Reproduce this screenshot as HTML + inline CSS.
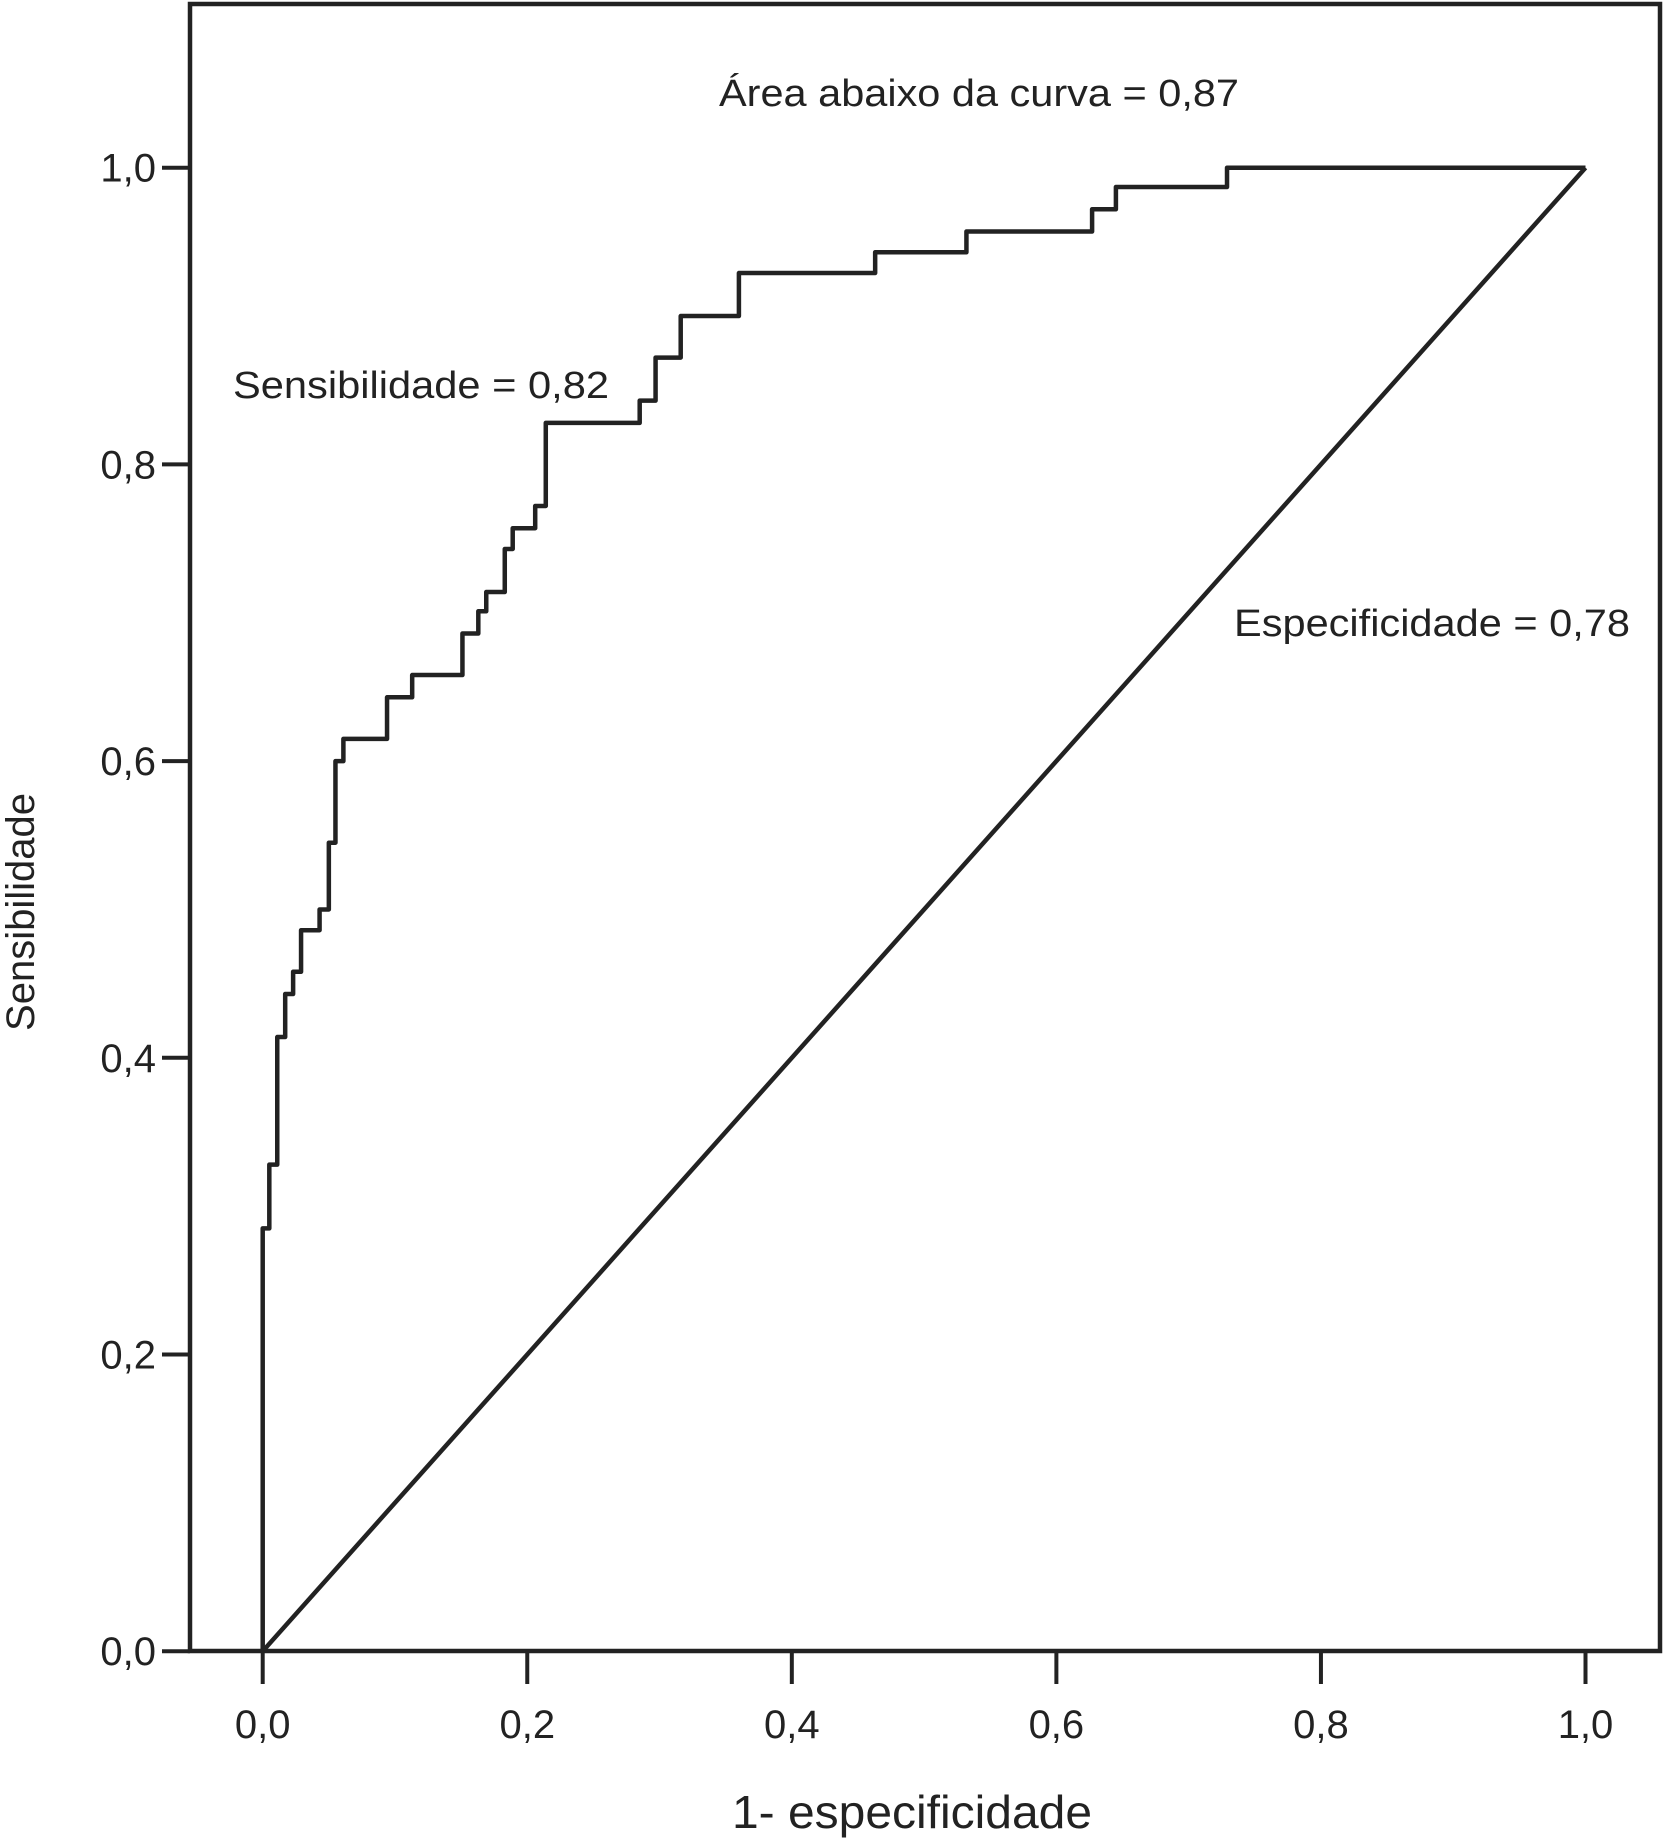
<!DOCTYPE html>
<html><head><meta charset="utf-8"><style>
html,body{margin:0;padding:0;background:#fff;}
svg{display:block;font-family:"Liberation Sans",Arial,sans-serif;}
</style></head><body>
<svg id="chart" width="1664" height="1839" viewBox="0 0 1664 1839" xmlns="http://www.w3.org/2000/svg">
<rect x="0" y="0" width="1664" height="1839" fill="#fff"/>
<g id="axes"></g>
<g id="marks"></g>
<text x="719" y="106" font-size="38" fill="#222" textLength="520" lengthAdjust="spacingAndGlyphs">Área abaixo da curva = 0,87</text>
<text x="233" y="398" font-size="38" fill="#222" textLength="376" lengthAdjust="spacingAndGlyphs">Sensibilidade = 0,82</text>
<text x="1234" y="636" font-size="38" fill="#222" textLength="396" lengthAdjust="spacingAndGlyphs">Especificidade = 0,78</text>
<text x="912" y="1828" font-size="46" fill="#222" text-anchor="middle" textLength="360" lengthAdjust="spacingAndGlyphs">1- especificidade</text>
<text transform="translate(34,912) rotate(-90)" font-size="40" fill="#222" text-anchor="middle">Sensibilidade</text>
</svg>
<script>
const xTicks = [0, 0.2, 0.4, 0.6, 0.8, 1.0];
const yTicks = [0, 0.2, 0.4, 0.6, 0.8, 1.0];
const xTickLabels = ["0,0","0,2","0,4","0,6","0,8","1,0"];
const yTickLabels = ["0,0","0,2","0,4","0,6","0,8","1,0"];
const stepX = [0, 0.005, 0.011, 0.017, 0.023, 0.029, 0.043, 0.050, 0.055, 0.061, 0.094, 0.113, 0.151, 0.163, 0.169, 0.183, 0.189, 0.206, 0.214, 0.285, 0.297, 0.316, 0.360, 0.463, 0.532, 0.627, 0.645, 0.729];
const stepY = [0.285, 0.328, 0.414, 0.443, 0.458, 0.486, 0.500, 0.545, 0.600, 0.615, 0.643, 0.658, 0.686, 0.701, 0.714, 0.743, 0.757, 0.772, 0.828, 0.843, 0.872, 0.900, 0.929, 0.943, 0.957, 0.972, 0.987, 1.0];
const refX = [0, 1];
const refY = [0, 1];

const NS = "http://www.w3.org/2000/svg";
const X = v => 262.7 + v * 1322.8;
const Y = v => 1651.2 - v * 1483.5;
const axes = document.getElementById('axes');
const marks = document.getElementById('marks');
function mk(tag, attrs, parent){const e=document.createElementNS(NS,tag);for(const k in attrs)e.setAttribute(k,attrs[k]);parent.appendChild(e);return e;}

const frame = mk('path',{d:'M190,1651 L190,4 L1660,4 L1660,1651 Z',fill:'none',stroke:'#222','stroke-width':4.5},axes);



xTicks.forEach((t,i)=>{
  const l = mk('line',{x1:X(t),x2:X(t),y1:1651,y2:1684,stroke:'#222','stroke-width':4},axes);
  
  
  const tx = mk('text',{x:X(t),y:1738,'font-size':40,fill:'#222','text-anchor':'middle'},axes);
  tx.textContent = xTickLabels[i];
  
  
});
yTicks.forEach((t,i)=>{
  const l = mk('line',{x1:162,x2:190,y1:Y(t),y2:Y(t),stroke:'#222','stroke-width':4},axes);
  
  
  const tx = mk('text',{x:156,y:Y(t)+14,'font-size':40,fill:'#222','text-anchor':'end'},axes);
  tx.textContent = yTickLabels[i];
  
  
});

const ref = mk('line',{x1:X(refX[0]),y1:Y(refY[0]),x2:X(refX[1]),y2:Y(refY[1]),stroke:'#222','stroke-width':4.5},marks);



let d = 'M' + X(0) + ',' + Y(0);
for (let i=0;i<stepX.length;i++){
  d += ' L' + X(stepX[i]) + ',' + Y(i===0?0:stepY[i-1]);
  d += ' L' + X(stepX[i]) + ',' + Y(stepY[i]);
}
d += ' L' + X(1) + ',' + Y(stepY[stepY.length-1]);
const roc = mk('path',{d:d,fill:'none',stroke:'#222','stroke-width':4.5,'stroke-linejoin':'round'},marks);


</script>
</body></html>
